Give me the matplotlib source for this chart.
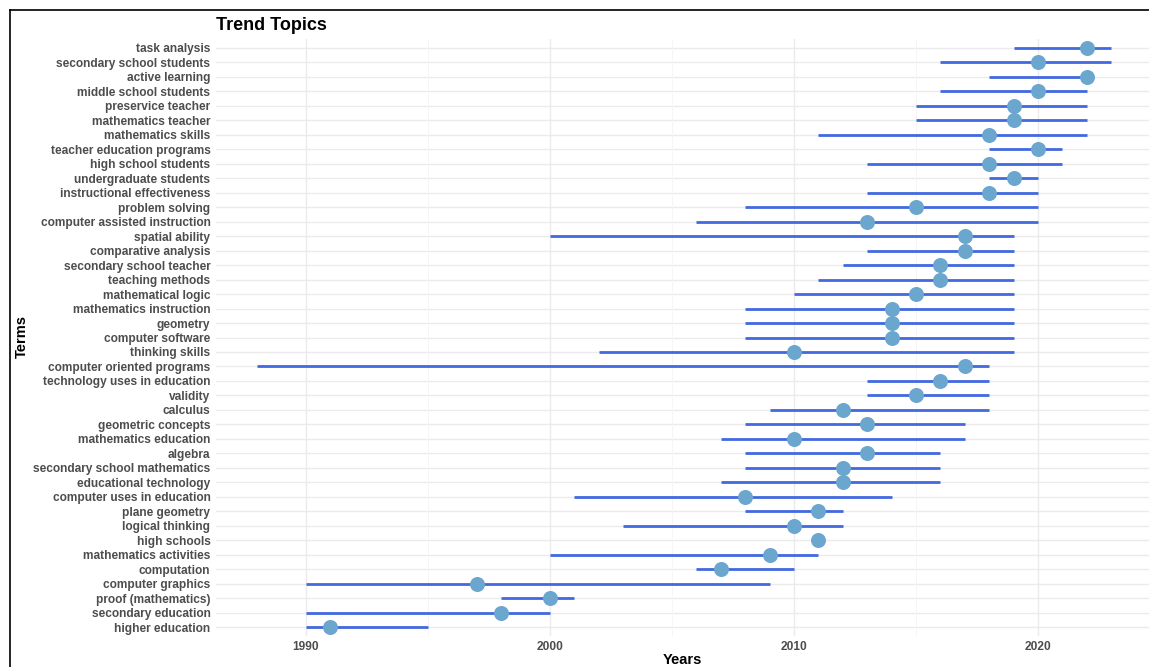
import matplotlib
matplotlib.use("Agg")
import matplotlib.pyplot as plt
from matplotlib.lines import Line2D

plt.rcParams['font.family'] = ['Liberation Sans', 'DejaVu Sans']

terms = [
    "task analysis", "secondary school students", "active learning", "middle school students",
    "preservice teacher", "mathematics teacher", "mathematics skills", "teacher education programs",
    "high school students", "undergraduate students", "instructional effectiveness", "problem solving",
    "computer assisted instruction", "spatial ability", "comparative analysis", "secondary school teacher",
    "teaching methods", "mathematical logic", "mathematics instruction", "geometry",
    "computer software", "thinking skills", "computer oriented programs", "technology uses in education",
    "validity", "calculus", "geometric concepts", "mathematics education",
    "algebra", "secondary school mathematics", "educational technology", "computer uses in education",
    "plane geometry", "logical thinking", "high schools", "mathematics activities",
    "computation", "computer graphics", "proof (mathematics)", "secondary education",
    "higher education",
]
year_q1 = [2019, 2016, 2018, 2016, 2015, 2015, 2011, 2018, 2013, 2018, 2013, 2008, 2006, 2000,
           2013, 2012, 2011, 2010, 2008, 2008, 2008, 2002, 1988, 2013, 2013, 2009, 2008, 2007,
           2008, 2008, 2007, 2001, 2008, 2003, 2011, 2000, 2006, 1990, 1998, 1990, 1990]
year_med = [2022, 2020, 2022, 2020, 2019, 2019, 2018, 2020, 2018, 2019, 2018, 2015, 2013, 2017,
            2017, 2016, 2016, 2015, 2014, 2014, 2014, 2010, 2017, 2016, 2015, 2012, 2013, 2010,
            2013, 2012, 2012, 2008, 2011, 2010, 2011, 2009, 2007, 1997, 2000, 1998, 1991]
year_q3 = [2023, 2023, 2022, 2022, 2022, 2022, 2022, 2021, 2021, 2020, 2020, 2020, 2020, 2019,
           2019, 2019, 2019, 2019, 2019, 2019, 2019, 2019, 2018, 2018, 2018, 2018, 2017, 2017,
           2016, 2016, 2016, 2014, 2012, 2012, 2011, 2011, 2010, 2009, 2001, 2000, 1995]
x_ticks = [1990, 2000, 2010, 2020]
x_minor = [1995, 2005, 2015]

W, H = 1149, 667
fig = plt.figure(figsize=(W / 100, H / 100), dpi=100)
ax = fig.add_axes([216 / W, 1 - 635.7 / H, (1149 - 216) / W, (635.7 - 39.3) / H])

n = len(terms)
ypos = list(range(n))

for y in ypos:
    ax.axhline(y, color="#EBEBEB", lw=1.0, zorder=0)
for x in x_ticks:
    ax.axvline(x, color="#EBEBEB", lw=1.0, zorder=0)
for x in x_minor:
    ax.axvline(x, color="#F4F4F4", lw=0.6, zorder=0)

ax.hlines(ypos, year_q1, year_q3, color="#4169E1", lw=2.0, zorder=2)
ax.plot(year_med, ypos, "o", color="#6BA6CE", markersize=10.8, markeredgewidth=0, zorder=3)

ax.set_xlim(1986.31, 2024.55)
ax.set_ylim(n - 1 + 0.6, -0.6)
ax.set_yticks(ypos)
ax.set_yticklabels(terms)
ax.set_xticks(x_ticks)
ax.set_xticklabels([str(x) for x in x_ticks])
ax.tick_params(axis="both", length=0, labelsize=8.6, labelcolor="#4D4D4D", pad=4)
for lab in ax.get_yticklabels() + ax.get_xticklabels():
    lab.set_fontweight("bold")
for s in ax.spines.values():
    s.set_visible(False)

fig.text(216 / W, 1 - 25 / H, "Trend Topics", fontsize=13, fontweight="bold", ha="left", va="center", color="black")
fig.text(22 / W, 1 - 336 / H, "Terms", fontsize=10.5, fontweight="bold", rotation=90, ha="center", va="center", color="black")
fig.text(682 / W, 1 - 660 / H, "Years", fontsize=10.5, fontweight="bold", ha="center", va="center", color="black")

# border of the screenshot frame (left and top)
fig.add_artist(Line2D([10 / W, 10 / W], [0, 1 - 10 / H], transform=fig.transFigure, color="black", lw=1.2))
fig.add_artist(Line2D([10 / W, 1], [1 - 10 / H, 1 - 10 / H], transform=fig.transFigure, color="black", lw=1.2))

fig.savefig("out.png", dpi=100, facecolor="white")
